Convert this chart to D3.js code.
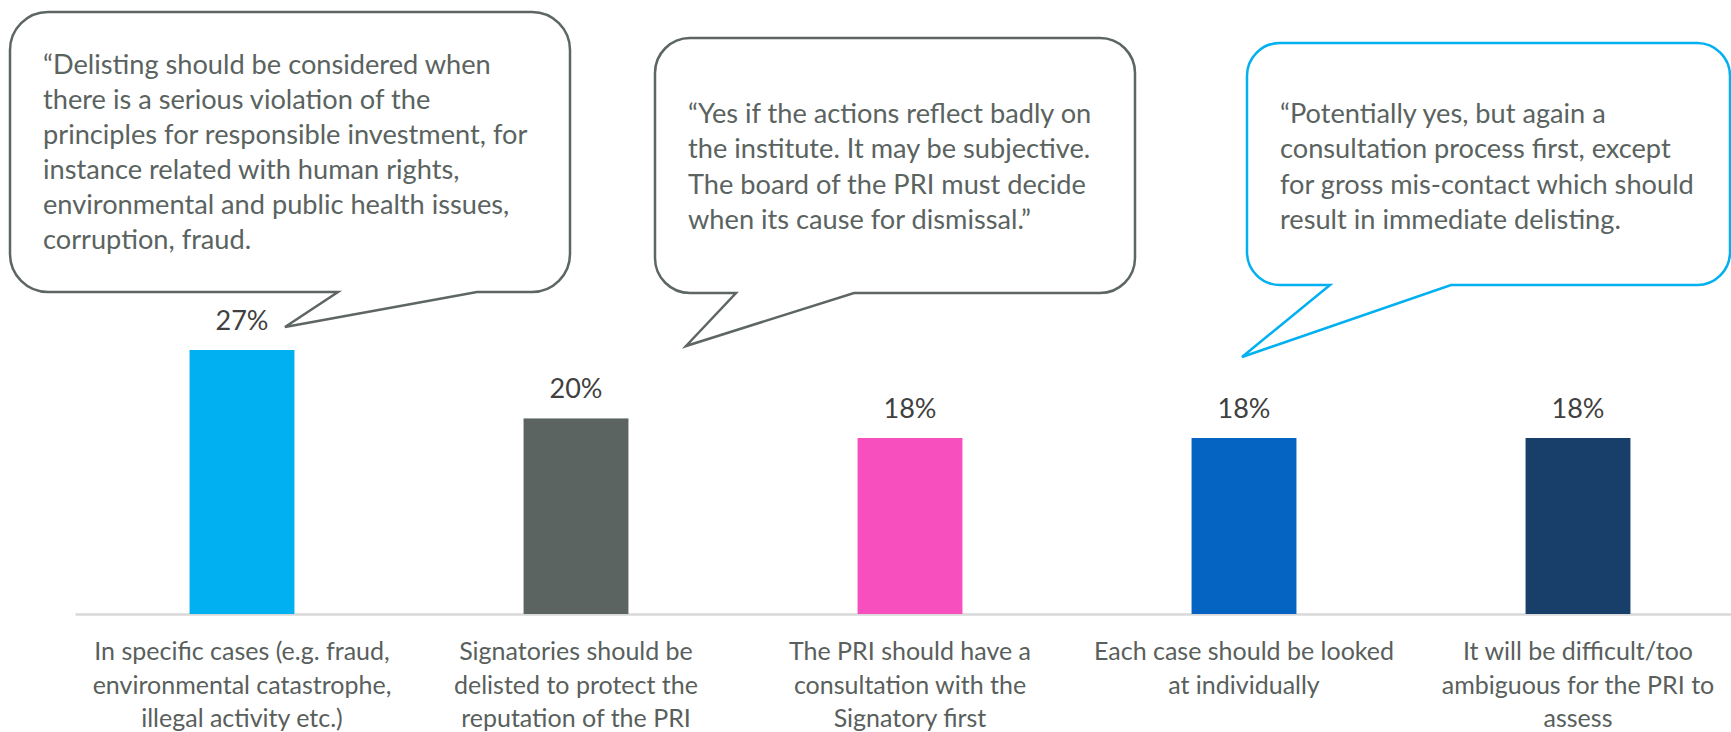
<!DOCTYPE html>
<html>
<head>
<meta charset="utf-8">
<script src="https://cdn.jsdelivr.net/npm/d3@7"></script>
<style>
  html, body { margin: 0; padding: 0; background: #ffffff; }
  svg { display: block; }
  text { font-family: Lato, "Open Sans", sans-serif; }
</style>
</head>
<body>
<div id="chart"></div>
<script>
// ---- Data ----
const categories = [
  "In specific cases (e.g. fraud, environmental catastrophe, illegal activity etc.)",
  "Signatories should be delisted to protect the reputation of the PRI",
  "The PRI should have a consultation with the Signatory first",
  "Each case should be looked at individually",
  "It will be difficult/too ambiguous for the PRI to assess"
];
const categoryLines = [
  ["In specific cases (e.g. fraud,", "environmental catastrophe,", "illegal activity etc.)"],
  ["Signatories should be", "delisted to protect the", "reputation of the PRI"],
  ["The PRI should have a", "consultation with the", "Signatory first"],
  ["Each case should be looked", "at individually"],
  ["It will be difficult/too", "ambiguous for the PRI to", "assess"]
];
const values = [27, 20, 18, 18, 18];
const valueLabels = ["27%", "20%", "18%", "18%", "18%"];

const quote1 = [
  "\u201cDelisting should be considered when",
  "there is a serious violation of the",
  "principles for responsible investment, for",
  "instance related with human rights,",
  "environmental and public health issues,",
  "corruption, fraud."
];
const quote2 = [
  "\u201cYes if the actions reflect badly on",
  "the institute. It may be subjective.",
  "The board of the PRI must decide",
  "when its cause for dismissal.\u201d"
];
const quote3 = [
  "\u201cPotentially yes, but again a",
  "consultation process first, except",
  "for gross mis-contact which should",
  "result in immediate delisting."
];

// ---- Styles ----
const barColors = ["#00B0F0", "#5B6460", "#F74FBD", "#0563C1", "#183F6A"];
const W = 1731, H = 732;

const svg = d3.select("#chart").append("svg")
  .attr("width", W).attr("height", H);

const x = d3.scaleBand()
  .domain(categories)
  .range([75, 1745])
  .paddingInner(0.686)
  .paddingOuter(0.343);

const y = d3.scaleLinear()
  .domain([0, d3.max(values)])
  .range([614, 350]);

// axis line
const axis = svg.append("g")
  .attr("transform", `translate(0,${y(0)})`)
  .call(d3.axisBottom(x).tickSize(0).tickSizeOuter(0).tickFormat(""));
axis.select(".domain").attr("stroke", "#D9D9D9").attr("stroke-width", 2.5);

// bars
svg.append("g").selectAll("rect")
  .data(values)
  .join("rect")
  .attr("x", (d, i) => x(categories[i]))
  .attr("y", d => y(d))
  .attr("width", x.bandwidth())
  .attr("height", d => y(0) - y(d))
  .attr("fill", (d, i) => barColors[i]);

// value labels
svg.append("g").selectAll("text")
  .data(values)
  .join("text")
  .attr("x", (d, i) => x(categories[i]) + x.bandwidth() / 2)
  .attr("y", d => y(d) - 20)
  .attr("text-anchor", "middle")
  .attr("font-size", 27)
  .attr("fill", "#404040")
  .text((d, i) => valueLabels[i]);

// category labels
const catG = svg.append("g").selectAll("text")
  .data(categoryLines)
  .join("text")
  .attr("text-anchor", "middle")
  .attr("font-size", 25)
  .attr("fill", "#595F5C");
catG.each(function(lines, i) {
  const cx = x(categories[i]) + x.bandwidth() / 2;
  d3.select(this).selectAll("tspan")
    .data(lines)
    .join("tspan")
    .attr("x", cx)
    .attr("y", (l, j) => 660 + j * 33.5)
    .text(l => l);
});

// speech bubbles
function bubblePath(b) {
  const {x0, y0, x1, y1, r, ta, tb, tx, ty} = b;
  const p = d3.path();
  p.moveTo(x0 + r, y0);
  p.lineTo(x1 - r, y0);
  p.arcTo(x1, y0, x1, y0 + r, r);
  p.lineTo(x1, y1 - r);
  p.arcTo(x1, y1, x1 - r, y1, r);
  p.lineTo(tb, y1);
  p.lineTo(tx, ty);
  p.lineTo(ta, y1);
  p.lineTo(x0 + r, y1);
  p.arcTo(x0, y1, x0, y1 - r, r);
  p.lineTo(x0, y0 + r);
  p.arcTo(x0, y0, x0 + r, y0, r);
  p.closePath();
  return p.toString();
}

const bubbles = [
  {x0: 10, y0: 12, x1: 570, y1: 292, r: 38, ta: 338, tb: 477, tx: 285, ty: 327,
   stroke: "#5D6663", lines: quote1, tx0: 43, by0: 74, lh: 35},
  {x0: 655, y0: 38, x1: 1135, y1: 293, r: 35, ta: 736, tb: 854, tx: 686, ty: 346,
   stroke: "#5D6663", lines: quote2, tx0: 688, by0: 123, lh: 35.3},
  {x0: 1247, y0: 43, x1: 1730, y1: 285, r: 33, ta: 1330, tb: 1451, tx: 1242, ty: 357,
   stroke: "#00B0F0", lines: quote3, tx0: 1280, by0: 123, lh: 35.3}
];

const bg = svg.append("g").selectAll("g")
  .data(bubbles)
  .join("g");
bg.append("path")
  .attr("d", d => bubblePath(d))
  .attr("fill", "#ffffff")
  .attr("stroke", d => d.stroke)
  .attr("stroke-width", 2.5)
  .attr("stroke-linejoin", "miter");
bg.append("text")
  .attr("font-size", 27.2)
  .attr("fill", "#5A6360")
  .each(function(b) {
    d3.select(this).selectAll("tspan")
      .data(b.lines)
      .join("tspan")
      .attr("x", b.tx0)
      .attr("y", (l, j) => b.by0 + j * b.lh)
      .text(l => l);
  });
</script>
</body>
</html>
